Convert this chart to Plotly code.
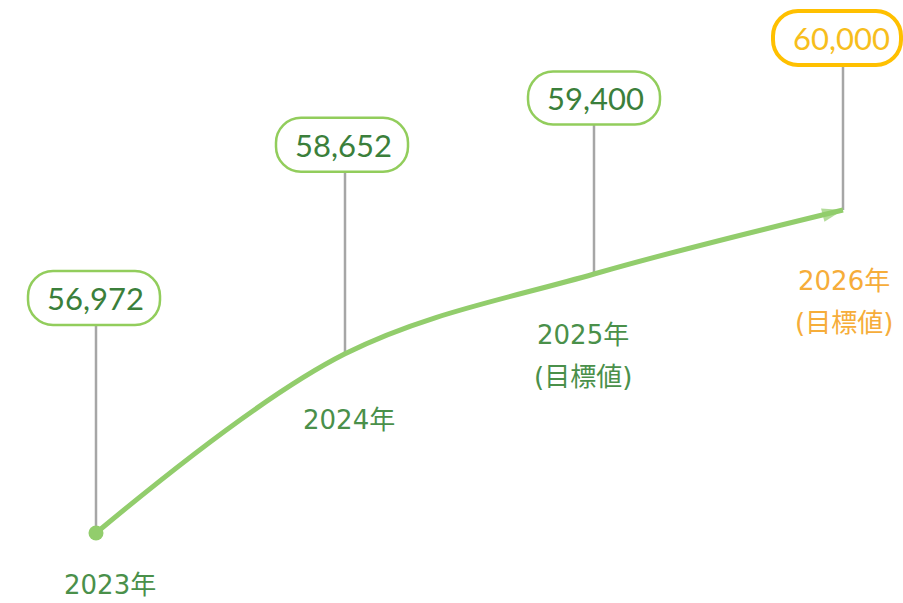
import plotly.graph_objects as go

# ---- data ----
years = ["2023年", "2024年", "2025年", "2026年"]
notes = ["", "", "(目標値)", "(目標値)"]
values = [56972, 58652, 59400, 60000]
is_target = [False, False, False, True]

# ---- styles / layout constants ----
W, H = 903, 603
GREEN_LINE = "#92CD6C"
GREEN_BORDER = "#92CD5C"
GREEN_TEXT = "#3B7F3B"
YEAR_GREEN = "#4A904A"
GOLD_BORDER = "#FFC000"
GOLD_TEXT = "#F7BE1C"
YEAR_GOLD = "#F6AD3A"
GRAY = "#A6A6A6"
YEAR_FONT = "DejaVu Sans, Noto Sans CJK JP, sans-serif"

# pixel offsets of the value boxes relative to each point (dx, up)
box_dx = [-2, -3, 0, -6]
box_up = [235, 209, 176, 172]
box_w = [132, 132, 132, 128]
box_h = [54, 54, 53, 54]
# offsets of the year labels (dx, down) for line 1 and line 2
year_dx = [14, 4, -11, 1]
year_down = [52, 66, 61, 71]
note_down = 42

x = list(range(len(years)))

fig = go.Figure()

shapes = []
for i, v in enumerate(values):
    shapes.append(dict(
        type="line", xref="x", yref="y", ysizemode="pixel", yanchor=v,
        x0=i, x1=i, y0=0, y1=box_up[i] - box_h[i] / 2,
        line=dict(color=GRAY, width=2.5), layer="below"))


def pill(cx, cy, w, h, r):
    k = 0.5523 * r
    l, rt, b, t = cx - w / 2, cx + w / 2, cy - h / 2, cy + h / 2
    p = (f"M{l+r},{b} L{rt-r},{b} "
         f"C{rt-r+k},{b} {rt},{b+r-k} {rt},{b+r} "
         f"L{rt},{t-r} "
         f"C{rt},{t-r+k} {rt-r+k},{t} {rt-r},{t} "
         f"L{l+r},{t} "
         f"C{l+r-k},{t} {l},{t-r+k} {l},{t-r} "
         f"L{l},{b+r} "
         f"C{l},{b+r-k} {l+r-k},{b} {l+r},{b} Z")
    return p


for i, v in enumerate(values):
    shapes.append(dict(
        type="path", xref="x", yref="y", xsizemode="pixel", ysizemode="pixel",
        xanchor=i, yanchor=v,
        path=pill(box_dx[i], box_up[i], box_w[i], box_h[i], 25),
        fillcolor="white",
        line=dict(color=GOLD_BORDER if is_target[i] else GREEN_BORDER,
                  width=4 if is_target[i] else 2.5),
        layer="above"))

# main curve with end arrow
fig.add_trace(go.Scatter(
    x=x, y=values, mode="lines+markers",
    line=dict(color=GREEN_LINE, width=5, shape="spline", smoothing=1.0),
    marker=dict(symbol=["circle", "circle", "circle", "arrow"],
                size=[0, 0, 0, 22], color=GREEN_LINE,
                angleref="previous", line=dict(width=0)),
    hoverinfo="skip", showlegend=False))
# start dot
fig.add_trace(go.Scatter(
    x=x[:1], y=values[:1], mode="markers",
    marker=dict(symbol="circle", size=15, color=GREEN_LINE, line=dict(width=0)),
    hoverinfo="skip", showlegend=False))

annotations = []
for i, v in enumerate(values):
    annotations.append(dict(
        x=i, y=v, xref="x", yref="y", text=f"{v:,}", showarrow=False,
        xshift=box_dx[i] + (4 if is_target[i] else 1), yshift=box_up[i],
        font=dict(family="Lato, Open Sans, sans-serif", size=31,
                  color=GOLD_TEXT if is_target[i] else GREEN_TEXT),
        xanchor="center", yanchor="middle"))
    col = YEAR_GOLD if is_target[i] else YEAR_GREEN
    annotations.append(dict(
        x=i, y=v, xref="x", yref="y", text=years[i], showarrow=False,
        xshift=year_dx[i], yshift=-year_down[i],
        font=dict(family=YEAR_FONT, size=26, color=col),
        xanchor="center", yanchor="middle"))
    if notes[i]:
        annotations.append(dict(
            x=i, y=v, xref="x", yref="y", text=notes[i], showarrow=False,
            xshift=year_dx[i], yshift=-(year_down[i] + note_down),
            font=dict(family=YEAR_FONT, size=26, color=col),
            xanchor="center", yanchor="middle"))

px0, dpx = 96, 249
py0, k = 533, 323 / 3028
x_range = [-px0 / dpx, (W - px0) / dpx]
y_range = [values[0] - (H - py0) / k, values[0] + py0 / k]

fig.update_layout(
    width=W, height=H, autosize=False,
    margin=dict(l=0, r=0, t=0, b=0),
    paper_bgcolor="white", plot_bgcolor="white",
    xaxis=dict(range=x_range, visible=False, fixedrange=True),
    yaxis=dict(range=y_range, visible=False, fixedrange=True),
    shapes=shapes, annotations=annotations,
)

fig.write_html(
    "out.html",
    config={"displayModeBar": False},
    post_script="document.body.style.margin='0';document.body.style.overflow='hidden';",
)
